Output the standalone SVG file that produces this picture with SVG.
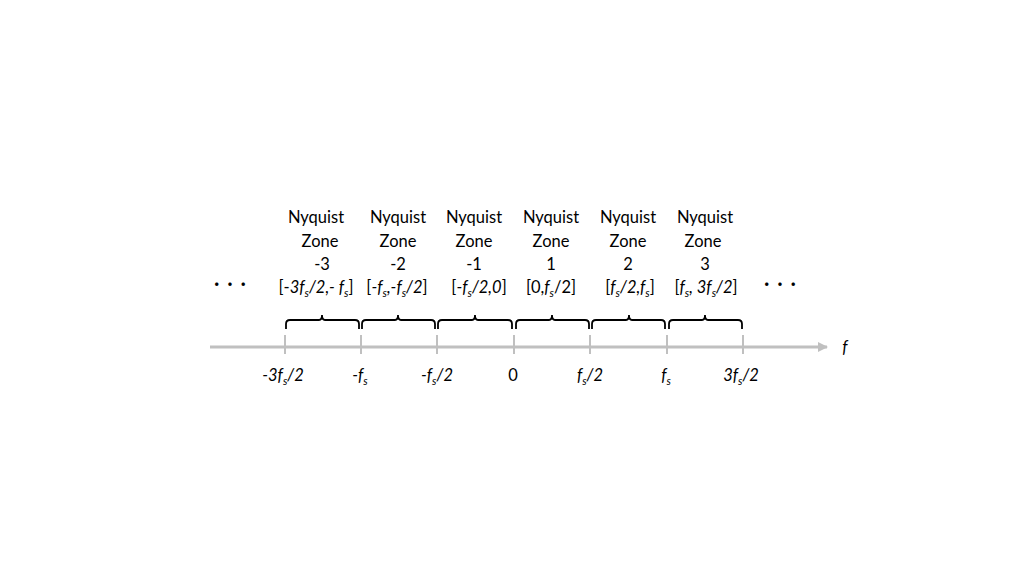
<svg xmlns="http://www.w3.org/2000/svg" width="1024" height="576" viewBox="0 0 1024 576">
<style>
text{font-family:Lato,"Liberation Sans",sans-serif;font-size:16.5px;fill:#000;text-anchor:middle}
.i{font-style:italic}
.s{font-size:11px;font-style:italic}
.brace{fill:none;stroke:#000;stroke-width:1.8}
.tick{stroke:#c0c0c0;stroke-width:2}
.dots{font-size:18px;font-weight:bold;letter-spacing:2px}
</style>
<defs>
<marker id="ah" markerWidth="10" markerHeight="10" refX="9" refY="5" orient="auto" markerUnits="userSpaceOnUse">
<path d="M0,0 L10,5 L0,10 Z" fill="#c0c0c0"/>
</marker>
</defs>
<rect width="1024" height="576" fill="#fff"/>
<g id="axis">
<line x1="210" y1="347" x2="827" y2="347" stroke="#c0c0c0" stroke-width="3" marker-end="url(#ah)"/>
<line class="tick" x1="285" y1="335" x2="285" y2="354"/>
<line class="tick" x1="361" y1="335" x2="361" y2="354"/>
<line class="tick" x1="437" y1="335" x2="437" y2="354"/>
<line class="tick" x1="514" y1="335" x2="514" y2="354"/>
<line class="tick" x1="590" y1="335" x2="590" y2="354"/>
<line class="tick" x1="667" y1="335" x2="667" y2="354"/>
<line class="tick" x1="743" y1="335" x2="743" y2="354"/>
<text class="i" x="845" y="353">f</text>
</g>
<g id="axis-labels">
<text class="i" x="283" y="381">-3f<tspan class="s" dy="4">s</tspan><tspan dy="-4">/2</tspan></text>
<text class="i" x="360" y="381">-f<tspan class="s" dy="4">s</tspan></text>
<text class="i" x="437" y="381">-f<tspan class="s" dy="4">s</tspan><tspan dy="-4">/2</tspan></text>
<text x="513" y="381">0</text>
<text class="i" x="590" y="381">f<tspan class="s" dy="4">s</tspan><tspan dy="-4">/2</tspan></text>
<text class="i" x="666" y="381">f<tspan class="s" dy="4">s</tspan></text>
<text class="i" x="741" y="381">3f<tspan class="s" dy="4">s</tspan><tspan dy="-4">/2</tspan></text>
</g>
<g id="connectors">
<path class="brace" d="M286,329 L286,324 Q286,320 290,320 L319,320 Q322,320 322,315 Q322,320 325,320 L355,320 Q359,320 359,324 L359,329"/>
<path class="brace" d="M362,329 L362,324 Q362,320 366,320 L395,320 Q398,320 398,315 Q398,320 401,320 L431,320 Q435,320 435,324 L435,329"/>
<path class="brace" d="M438,329 L438,324 Q438,320 442,320 L472,320 Q475,320 475,315 Q475,320 478,320 L508,320 Q512,320 512,324 L512,329"/>
<path class="brace" d="M516,329 L516,324 Q516,320 520,320 L549,320 Q552,320 552,315 Q552,320 555,320 L585,320 Q589,320 589,324 L589,329"/>
<path class="brace" d="M592,329 L592,324 Q592,320 596,320 L626,320 Q629,320 629,315 Q629,320 632,320 L661,320 Q665,320 665,324 L665,329"/>
<path class="brace" d="M669,329 L669,324 Q669,320 673,320 L702,320 Q705,320 705,315 Q705,320 708,320 L738,320 Q742,320 742,324 L742,329"/>
</g>
<g id="zone-m3">
<text x="316" y="223">Nyquist</text><text x="320" y="247">Zone</text><text x="322" y="270">-3</text>
<text x="316" y="293">[-<tspan class="i">3f</tspan><tspan class="s" dy="4">s</tspan><tspan class="i" dy="-4">/2,- f</tspan><tspan class="s" dy="4">s</tspan><tspan dy="-4">]</tspan></text>
</g>
<g id="zone-m2">
<text x="398" y="223">Nyquist</text><text x="398" y="247">Zone</text><text x="398" y="270">-2</text>
<text x="397" y="293">[<tspan class="i">-f</tspan><tspan class="s" dy="4">s</tspan><tspan class="i" dy="-4">,-f</tspan><tspan class="s" dy="4">s</tspan><tspan class="i" dy="-4">/2</tspan>]</text>
</g>
<g id="zone-m1">
<text x="474" y="223">Nyquist</text><text x="474" y="247">Zone</text><text x="474" y="270">-1</text>
<text x="479" y="293">[<tspan class="i">-f</tspan><tspan class="s" dy="4">s</tspan><tspan class="i" dy="-4">/2,0</tspan>]</text>
</g>
<g id="zone-1">
<text x="551" y="223">Nyquist</text><text x="551" y="247">Zone</text><text x="551" y="270">1</text>
<text x="551" y="293">[0,<tspan class="i">f</tspan><tspan class="s" dy="4">s</tspan><tspan dy="-4">/2]</tspan></text>
</g>
<g id="zone-2">
<text x="628" y="223">Nyquist</text><text x="628" y="247">Zone</text><text x="628" y="270">2</text>
<text x="630" y="293">[<tspan class="i">f</tspan><tspan class="s" dy="4">s</tspan><tspan class="i" dy="-4">/2,f</tspan><tspan class="s" dy="4">s</tspan><tspan dy="-4">]</tspan></text>
</g>
<g id="zone-3">
<text x="705" y="223">Nyquist</text><text x="703" y="247">Zone</text><text x="705" y="270">3</text>
<text x="706" y="293">[<tspan class="i">f</tspan><tspan class="s" dy="4">s</tspan><tspan class="i" dy="-4">, 3f</tspan><tspan class="s" dy="4">s</tspan><tspan class="i" dy="-4">/2</tspan>]</text>
</g>
<g id="dots">
<text class="dots" x="231" y="290">· · ·</text>
<text class="dots" x="781" y="290">· · ·</text>
</g>
</svg>
